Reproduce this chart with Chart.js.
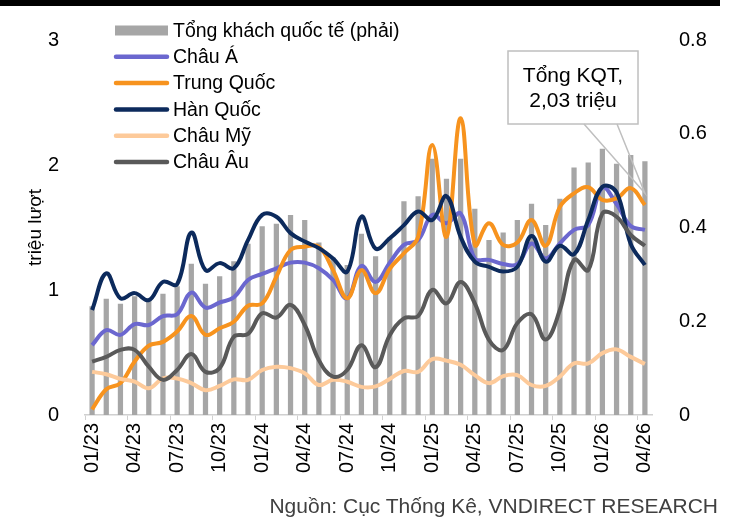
<!DOCTYPE html>
<html>
<head>
<meta charset="utf-8">
<script src="https://cdn.jsdelivr.net/npm/chart.js@4.4.1/dist/chart.umd.min.js"></script>
<style>
  body { margin: 0; background: #fff; }
  #wrap { position: relative; width: 735px; height: 525px; overflow: hidden; }
  #topline { position: absolute; left: 0; top: 0; width: 720px; height: 6px; background: #000; }
  #source { position: absolute; right: 17px; top: 494px; font: 21px 'Liberation Sans', Arial, sans-serif; color: #404040; white-space: nowrap; }
</style>
</head>
<body>
<div id="wrap">
  <canvas id="chart" width="735" height="525"></canvas>
  <div id="topline"></div>
  <div id="source">Nguồn: Cục Thống Kê, VNDIRECT RESEARCH</div>
</div>
<script>
/*=============== DATA ===============*/
const months = [
  '01/23','02/23','03/23','04/23','05/23','06/23','07/23','08/23','09/23','10/23','11/23','12/23',
  '01/24','02/24','03/24','04/24','05/24','06/24','07/24','08/24','09/24','10/24','11/24','12/24',
  '01/25','02/25','03/25','04/25','05/25','06/25','07/25','08/25','09/25','10/25','11/25','12/25',
  '01/26','02/26','03/26','04/26'
];

// Tổng khách quốc tế (triệu lượt)
const tongKhach = [0.87,0.93,0.89,0.95,0.92,0.97,1.03,1.21,1.05,1.11,1.23,1.37,
  1.51,1.53,1.60,1.56,1.38,1.26,1.20,1.45,1.27,1.42,1.71,1.75,
  2.05,1.89,2.05,1.65,1.40,1.46,1.56,1.69,1.52,1.73,1.98,2.02,
  2.13,2.01,2.08,2.03];

const chauA = [0.149,0.181,0.171,0.194,0.192,0.211,0.215,0.261,0.229,0.240,0.251,0.288,
  0.301,0.313,0.325,0.325,0.313,0.288,0.249,0.318,0.284,0.325,0.363,0.373,
  0.427,0.409,0.430,0.334,0.331,0.322,0.322,0.366,0.334,0.366,0.395,0.405,
  0.485,0.450,0.403,0.395];

const trungQuoc = [0.012,0.055,0.068,0.114,0.148,0.156,0.178,0.211,0.171,0.185,0.199,0.233,
  0.238,0.295,0.352,0.359,0.359,0.309,0.249,0.309,0.260,0.312,0.345,0.380,
  0.576,0.380,0.633,0.363,0.409,0.363,0.368,0.416,0.361,0.444,0.473,0.486,
  0.459,0.462,0.484,0.448];

const hanQuoc = [0.224,0.302,0.249,0.260,0.245,0.284,0.279,0.389,0.309,0.324,0.313,0.373,
  0.427,0.423,0.388,0.370,0.356,0.334,0.306,0.423,0.355,0.377,0.405,0.434,
  0.416,0.467,0.380,0.327,0.316,0.306,0.316,0.382,0.327,0.361,0.343,0.416,
  0.487,0.475,0.365,0.320];

const chauMy = [0.092,0.087,0.077,0.071,0.057,0.078,0.078,0.068,0.053,0.062,0.076,0.075,
  0.096,0.103,0.100,0.089,0.064,0.075,0.071,0.060,0.061,0.077,0.094,0.092,
  0.119,0.116,0.107,0.085,0.068,0.083,0.085,0.064,0.062,0.082,0.110,0.110,
  0.132,0.140,0.124,0.109];

const chauAu = [0.114,0.124,0.139,0.139,0.103,0.075,0.096,0.130,0.092,0.100,0.167,0.173,
  0.217,0.208,0.235,0.192,0.117,0.082,0.096,0.149,0.102,0.170,0.206,0.211,
  0.267,0.238,0.284,0.238,0.160,0.139,0.196,0.215,0.161,0.224,0.331,0.309,
  0.430,0.423,0.384,0.361];

const leftTicks = [0, 1, 2, 3];
const rightTicks = [0, 0.2, 0.4, 0.6, 0.8];

const calloutLines = ['Tổng KQT,', '2,03 triệu'];

/*=============== STYLE ===============*/
const FONT = "'Liberation Sans', Arial, sans-serif";
Chart.defaults.font.family = FONT;
Chart.defaults.color = '#000';

const lineDs = (label, data, color, order) => ({
  type: 'line',
  label: label,
  data: data,
  yAxisID: 'y1',
  borderColor: color,
  backgroundColor: color,
  borderWidth: 4,
  pointRadius: 0,
  tension: 0.4,
  fill: false,
  order: order
});

/*=============== LEGEND + CALLOUT ===============*/
const extras = {
  id: 'extras',
  afterDraw(chart) {
    const c = chart.ctx;
    c.save();
    // legend
    c.font = '19.5px ' + FONT;
    c.textBaseline = 'middle';
    c.textAlign = 'left';
    chart.data.datasets.forEach((ds, i) => {
      const y = 30.5 + i * 26.3;
      if (ds.type === 'line') {
        c.strokeStyle = ds.borderColor;
        c.lineWidth = 4.5;
        c.lineCap = 'round';
        c.beginPath();
        c.moveTo(116, y);
        c.lineTo(167, y);
        c.stroke();
      } else {
        c.fillStyle = ds.backgroundColor;
        c.fillRect(115, y - 5, 53, 10);
      }
      c.fillStyle = '#000';
      c.fillText(ds.label, 173, y + 1);
    });

    // callout
    const meta = chart.getDatasetMeta(0);
    const last = meta.data[meta.data.length - 1];
    const tipX = last.x, tipY = last.y + 32;
    c.lineCap = 'butt';
    c.fillStyle = '#fff';
    c.strokeStyle = '#bfbfbf';
    c.lineWidth = 1.5;
    c.fillRect(508, 51, 130, 73);
    c.strokeRect(508, 51, 130, 73);
    c.beginPath();
    c.moveTo(584, 124);
    c.lineTo(tipX, tipY);
    c.lineTo(617, 124);
    c.stroke();
    c.fillStyle = '#000';
    c.font = '21px ' + FONT;
    c.textAlign = 'center';
    c.fillText(calloutLines[0], 573, 76);
    c.fillText(calloutLines[1], 573, 101);
    c.restore();
  }
};

/*=============== CHART ===============*/
const ctx = document.getElementById('chart').getContext('2d');
new Chart(ctx, {
  type: 'bar',
  data: {
    labels: months,
    datasets: [
      {
        label: 'Tổng khách quốc tế (phải)',
        data: tongKhach,
        yAxisID: 'y',
        backgroundColor: '#a6a6a6',
        barPercentage: 0.37,
        categoryPercentage: 1,
        order: 10
      },
      lineDs('Châu Á', chauA, '#6b67cf', 5),
      lineDs('Trung Quốc', trungQuoc, '#f7931e', 4),
      lineDs('Hàn Quốc', hanQuoc, '#0c2a5c', 3),
      lineDs('Châu Mỹ', chauMy, '#fdca9a', 2),
      lineDs('Châu Âu', chauAu, '#595959', 1)
    ]
  },
  options: {
    responsive: false,
    animation: false,
    devicePixelRatio: 1,
    layout: { padding: { top: 40, bottom: 0, left: 0, right: 0 } },
    plugins: {
      legend: { display: false },
      tooltip: { enabled: false }
    },
    scales: {
      x: {
        offset: true,
        grid: {
          offset: true,
          drawOnChartArea: false,
          drawTicks: true,
          tickLength: 5,
          color: c => (c.index !== undefined && c.index % 3 === 0 && c.index < months.length) ? '#d0d0d0' : 'rgba(0,0,0,0)'
        },
        border: { display: true, color: '#d0d0d0', width: 1.5 },
        ticks: {
          autoSkip: false,
          minRotation: 90,
          maxRotation: 90,
          padding: 3,
          font: { size: 20 },
          color: '#000',
          callback: (v, i) => i % 3 === 0 ? months[i] : ''
        },
        afterFit: s => { s.height = 110; }
      },
      y: {
        position: 'left',
        min: leftTicks[0],
        max: leftTicks[leftTicks.length - 1],
        afterBuildTicks: s => { s.ticks = leftTicks.map(v => ({ value: v })); },
        ticks: { padding: 18, font: { size: 20 }, color: '#000' },
        grid: { display: false },
        border: { display: false },
        title: { display: true, text: 'triệu lượt', font: { size: 19 }, color: '#000', padding: { top: 24 } },
        afterFit: s => { s.width = 85; }
      },
      y1: {
        position: 'right',
        min: rightTicks[0],
        max: rightTicks[rightTicks.length - 1],
        afterBuildTicks: s => { s.ticks = rightTicks.map(v => ({ value: v })); },
        ticks: {
          padding: 19,
          font: { size: 20 },
          color: '#000',
          callback: v => v === 0 ? '0' : v.toFixed(1)
        },
        grid: { display: false },
        border: { display: false },
        afterFit: s => { s.width = 83; }
      }
    }
  },
  plugins: [extras]
});
</script>
</body>
</html>
